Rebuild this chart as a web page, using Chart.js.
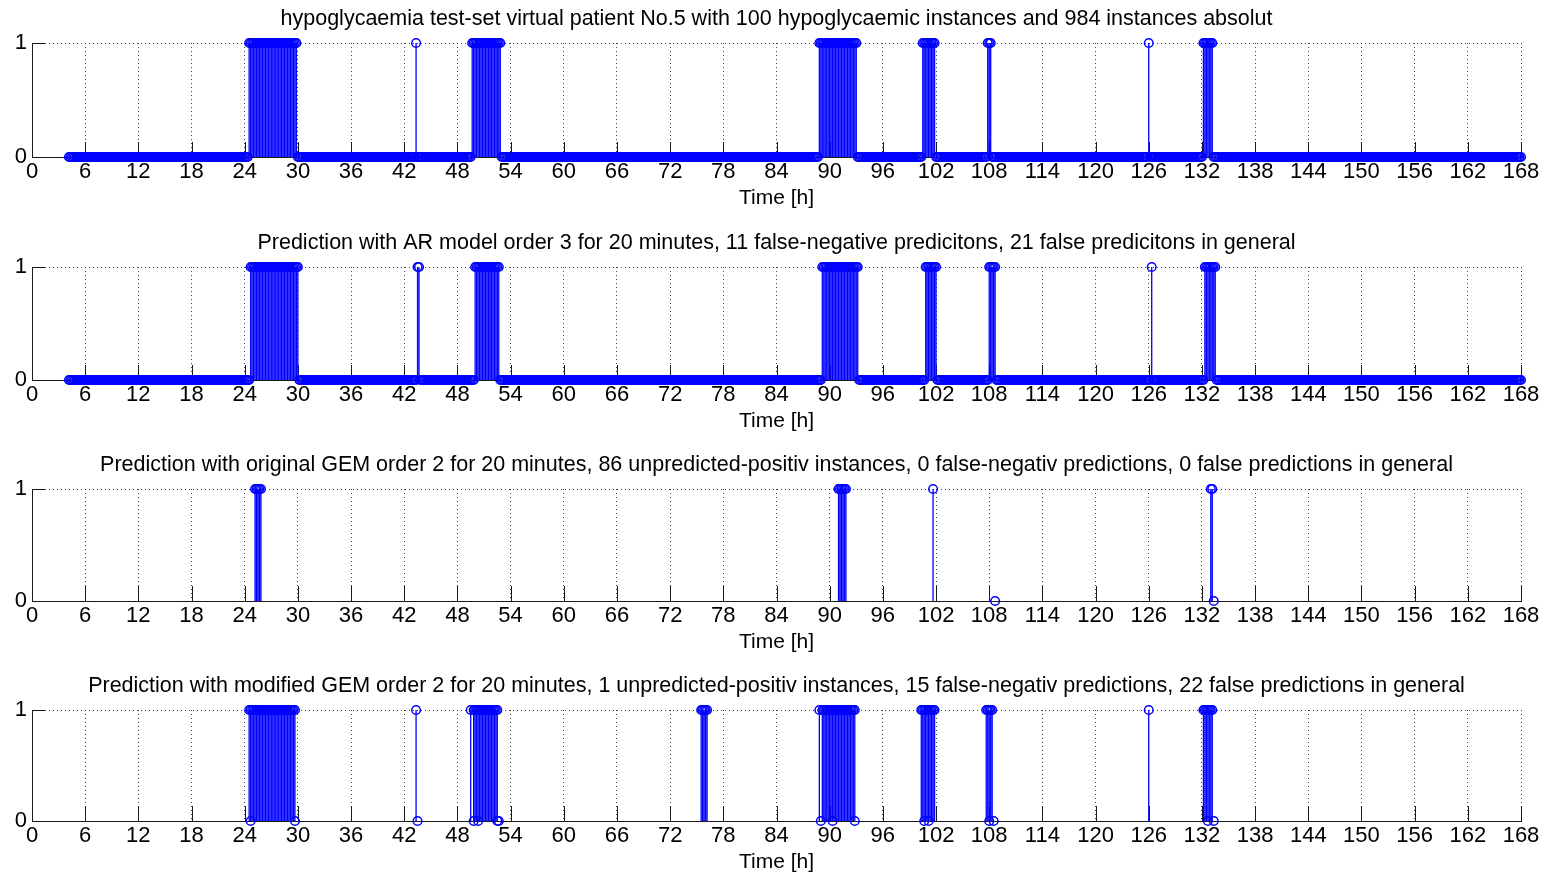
<!DOCTYPE html>
<html>
<head>
<meta charset="utf-8">
<script src="https://cdn.jsdelivr.net/npm/chart.js@4.4.1/dist/chart.umd.min.js"></script>
<style>
  html, body { margin: 0; padding: 0; background: #fff; width: 1546px; height: 874px; overflow: hidden; }
  .panel { position: absolute; left: 0; width: 1546px; }
  .panel canvas { display: block; }
</style>
</head>
<body>
<div class="panel" style="top:0px"><canvas id="c0"></canvas></div>
<div class="panel" style="top:224px"><canvas id="c1"></canvas></div>
<div class="panel" style="top:446px"><canvas id="c2"></canvas></div>
<div class="panel" style="top:667px"><canvas id="c3"></canvas></div>
<script>
// One instance every 10 minutes; 984 instances ending at 168 h.
const SAMPLE_COUNT = 984;
const SAMPLES_PER_HOUR = 6;
const FIRST_HOUR = 4;

const xTickValues = [0, 6, 12, 18, 24, 30, 36, 42, 48, 54, 60, 66, 72, 78, 84, 90, 96,
                     102, 108, 114, 120, 126, 132, 138, 144, 150, 156, 162, 168];
const yTickValues = [0, 1];

// Runs of positive (=1) instances, [first hour, last hour], 10-minute resolution.
const hypoRuns = [
  [24.50, 29.83], [43.33, 43.33], [49.67, 52.83], [88.83, 93.00],
  [100.50, 101.83], [107.83, 108.17], [126.00, 126.00], [132.17, 133.17]
];
const arRuns = [
  [24.67, 30.00], [43.50, 43.67], [50.00, 52.67], [89.17, 93.17],
  [100.83, 102.00], [108.00, 108.67], [126.33, 126.33], [132.33, 133.50]
];
const gemOrigRuns = [
  [25.17, 25.83], [91.00, 91.83], [101.67, 101.67], [133.00, 133.17]
];
const gemOrigZeroMarks = [108.67, 133.33];
const gemModRuns = [
  [24.50, 29.67], [43.33, 43.33], [49.50, 49.50], [49.83, 52.50], [75.50, 76.17],
  [88.83, 88.83], [89.17, 92.83], [100.33, 101.83], [107.67, 108.33],
  [126.00, 126.00], [132.17, 133.17]
];
const gemModZeroMarks = [
  24.67, 29.67, 43.50, 49.83, 50.33, 52.50, 52.67, 89.00, 90.33, 92.83,
  100.67, 101.17, 108.00, 108.50, 132.67, 133.33
];

const panelTitles = [
  'hypoglycaemia test-set virtual patient No.5 with 100 hypoglycaemic instances and 984 instances absolut',
  'Prediction with AR model order 3 for 20 minutes, 11 false-negative predicitons, 21 false predicitons in general',
  'Prediction with original GEM order 2 for 20 minutes, 86 unpredicted-positiv instances, 0 false-negativ predictions, 0 false predictions in general',
  'Prediction with modified GEM order 2 for 20 minutes, 1 unpredicted-positiv instances, 15 false-negativ predictions, 22 false predictions in general'
];
const xAxisTitle = 'Time [h]';

// ---- helpers -------------------------------------------------------------
const STEM_BLUE = '#0000ff';
const FONT = '"Liberation Sans", Arial, Helvetica, sans-serif';

const sampleHour = i => FIRST_HOUR + i / SAMPLES_PER_HOUR;
const sampleIndex = h => Math.round((h - FIRST_HOUR) * SAMPLES_PER_HOUR);

function positiveIndexSet(runs) {
  const set = new Set();
  runs.forEach(([a, b]) => {
    for (let i = sampleIndex(a); i <= sampleIndex(b); i++) set.add(i);
  });
  return set;
}

// every instance of the week, 0 or 1
function fullSeries(runs) {
  const pos = positiveIndexSet(runs);
  const pts = [];
  for (let i = 1; i <= SAMPLE_COUNT; i++) pts.push({ x: sampleHour(i), y: pos.has(i) ? 1 : 0 });
  return pts;
}

// only the predicted instances plus the listed zero marks
function sparseSeries(runs, zeroMarks) {
  const idx = [...positiveIndexSet(runs)].sort((a, b) => a - b);
  const pts = idx.map(i => ({ x: sampleHour(i), y: 1 }));
  zeroMarks.forEach(h => pts.push({ x: sampleHour(sampleIndex(h)), y: 0 }));
  return pts;
}

// vertical stem from 0 to each value, separated by gaps
function stemsOf(points) {
  const out = [];
  points.forEach(p => {
    if (p.y !== 0) {
      out.push({ x: p.x, y: 0 }, { x: p.x, y: p.y }, { x: p.x, y: null });
    }
  });
  return out;
}

// MATLAB-style tick marks drawn inward from the axes
const inwardTicks = {
  id: 'inwardTicks',
  beforeDatasetsDraw(chart) {
    const { ctx, chartArea, scales } = chart;
    ctx.save();
    ctx.strokeStyle = '#1a1a1a';
    ctx.lineWidth = 1;
    ctx.beginPath();
    xTickValues.forEach(v => {
      const px = Math.round(scales.x.getPixelForValue(v)) + 0.5;
      ctx.moveTo(px, chartArea.bottom);
      ctx.lineTo(px, chartArea.bottom - 15);
    });
    yTickValues.forEach(v => {
      const py = Math.round(scales.y.getPixelForValue(v)) + 0.5;
      ctx.moveTo(chartArea.left, py);
      ctx.lineTo(chartArea.left + 13, py);
    });
    ctx.stroke();
    ctx.restore();
  }
};

const plotHeights = [114, 113, 112, 111];
const TITLE_BLOCK = 43;
const X_AXIS_BLOCK = 65;
const PLOT_LEFT = 32;
const PLOT_RIGHT_GAP = 25;

function makePanel(canvasId, title, points, plotHeight) {
  const canvas = document.getElementById(canvasId);
  const h = TITLE_BLOCK + plotHeight + X_AXIS_BLOCK;
  canvas.width = 1546; canvas.height = h;
  canvas.style.width = '1546px'; canvas.style.height = h + 'px';

  return new Chart(canvas, {
    type: 'scatter',
    data: {
      datasets: [
        {
          type: 'line',
          data: stemsOf(points),
          borderColor: STEM_BLUE,
          borderWidth: 1.3,
          pointRadius: 0,
          spanGaps: false,
          tension: 0,
          clip: false,
          order: 2
        },
        {
          type: 'scatter',
          data: points,
          showLine: false,
          pointStyle: 'circle',
          pointRadius: 4.3,
          pointBorderWidth: 1.5,
          pointBorderColor: STEM_BLUE,
          pointBackgroundColor: 'rgba(0,0,0,0)',
          clip: false,
          order: 1
        }
      ]
    },
    options: {
      responsive: false,
      animation: false,
      events: [],
      // the left padding keeps the title centred over the axes
      layout: { padding: { left: PLOT_LEFT, right: PLOT_RIGHT_GAP, top: 0, bottom: 0 }, autoPadding: false },
      plugins: {
        legend: { display: false },
        tooltip: { enabled: false },
        title: {
          display: true,
          text: title,
          color: '#000',
          font: { family: FONT, size: 21.5, weight: 'normal', lineHeight: 1.2 },
          padding: { top: 6.5, bottom: 10.7 }
        }
      },
      scales: {
        x: {
          type: 'linear',
          min: 0, max: 168,
          afterBuildTicks: s => { s.ticks = xTickValues.map(v => ({ value: v })); },
          afterFit: s => { s.height = X_AXIS_BLOCK; },
          ticks: {
            color: '#000', autoSkip: false, maxRotation: 0, padding: 2,
            font: { family: FONT, size: 22, lineHeight: 1.2 }
          },
          grid: { color: '#444', lineWidth: 1, drawTicks: false },
          border: { display: true, color: '#1a1a1a', width: 1, dash: [1, 3] },
          title: {
            display: true, text: xAxisTitle, color: '#000',
            font: { family: FONT, size: 21, lineHeight: 1.2 },
            padding: { top: 0, bottom: 11.4 }
          }
        },
        y: {
          type: 'linear',
          min: 0, max: 1,
          afterBuildTicks: s => { s.ticks = yTickValues.map(v => ({ value: v })); },
          afterFit: s => { s.width = 0; },
          // mirrored labels are not clipped to the zero-width axis box;
          // the negative padding places them back to the left of the axis line
          ticks: {
            color: '#000', mirror: true, crossAlign: 'far', padding: -17.2,
            font: { family: FONT, size: 22, lineHeight: 1.2 }
          },
          grid: { color: '#444', lineWidth: 1, drawTicks: false },
          border: { display: true, color: '#1a1a1a', width: 1, dash: [1, 3] }
        }
      }
    },
    plugins: [inwardTicks]
  });
}

makePanel('c0', panelTitles[0], fullSeries(hypoRuns), plotHeights[0]);
makePanel('c1', panelTitles[1], fullSeries(arRuns), plotHeights[1]);
makePanel('c2', panelTitles[2], sparseSeries(gemOrigRuns, gemOrigZeroMarks), plotHeights[2]);
makePanel('c3', panelTitles[3], sparseSeries(gemModRuns, gemModZeroMarks), plotHeights[3]);
</script>
</body>
</html>
